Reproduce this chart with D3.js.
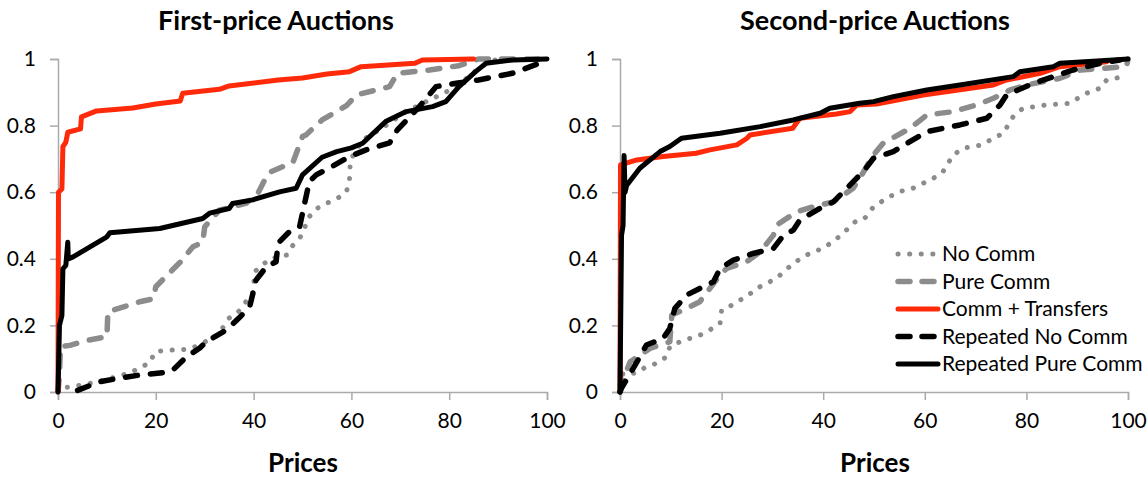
<!DOCTYPE html>
<html><head><meta charset="utf-8">
<script src="https://cdn.jsdelivr.net/npm/d3@7"></script>
<style>body{margin:0;background:#fff}svg{display:block}text{font-family:Lato,"Open Sans",sans-serif}</style>
</head><body>
<svg id="c" width="1148" height="478"></svg>
<script>
const seriesNames = ["No Comm","Pure Comm","Comm + Transfers","Repeated No Comm","Repeated Pure Comm"];
const panelTitles = ["First-price Auctions","Second-price Auctions"];
const xTicks = [0,20,40,60,80,100];
const yTicks = [0,0.2,0.4,0.6,0.8,1];
const yTickLabels = ["0","0.2","0.4","0.6","0.8","1"];
const xLabel = "Prices";

// First-price auctions: [price, cumulative share]
const fpNoComm = [[0,0],[0.5,0.012],[3,0.016],[8,0.03],[14.7,0.057],[18.8,0.088],[19.8,0.12],[22.2,0.126],[25,0.126],[27.3,0.131],[30,0.15],[32.7,0.171],[35,0.222],[37,0.243],[39.9,0.3],[40.2,0.361],[43.3,0.4],[46.7,0.411],[48,0.44],[49.4,0.461],[50.4,0.49],[51,0.52],[52.8,0.55],[55,0.567],[57.2,0.582],[59,0.602],[59.6,0.636],[59.8,0.697],[62.3,0.757],[64.4,0.775],[67.8,0.808],[71,0.84],[75,0.87],[79.3,0.9],[82.4,0.928],[85,0.96],[88,0.99],[90,1]];
const fpPureComm = [[0,0],[0.3,0.05],[0.5,0.136],[2.4,0.14],[6,0.155],[10,0.166],[10.2,0.241],[16.7,0.271],[19.5,0.28],[20,0.316],[22,0.346],[25,0.39],[27.6,0.436],[29.6,0.45],[30,0.496],[33,0.546],[38.5,0.567],[41,0.6],[43,0.658],[46,0.677],[48,0.688],[50,0.767],[50.7,0.772],[54,0.817],[59,0.86],[61,0.892],[67.8,0.917],[69.4,0.957],[76,0.967],[82,0.98],[86,1],[100,1]];
const fpCommTrans = [[0,0],[0.1,0.6],[0.8,0.61],[1,0.737],[1.6,0.75],[2,0.78],[4.6,0.79],[4.8,0.826],[7.9,0.844],[15.3,0.853],[20,0.865],[25,0.874],[25.5,0.897],[33,0.909],[35,0.919],[45,0.937],[50,0.943],[55,0.955],[59.6,0.962],[62,0.977],[73,0.987],[74.5,0.997],[85,1]];
const fpRepNoComm = [[4,0.005],[8.6,0.031],[12.7,0.042],[16.7,0.051],[21.5,0.058],[23.5,0.066],[26.3,0.106],[29,0.132],[30.3,0.151],[34.4,0.186],[37,0.222],[39.2,0.256],[40.5,0.336],[42.6,0.376],[44.6,0.391],[45,0.447],[47.3,0.481],[49.4,0.496],[50,0.537],[51.4,0.632],[52.8,0.652],[56,0.677],[59.6,0.707],[63,0.727],[67.8,0.748],[69.4,0.787],[73.9,0.857],[77.3,0.917],[81.4,0.927],[86,0.937],[92.9,0.957],[98.4,0.987],[100,0.99]];
const fpRepPureComm = [[0,0],[0.3,0.2],[0.8,0.23],[1,0.37],[1.6,0.38],[2,0.45],[2.1,0.4],[3,0.405],[10,0.466],[10.6,0.478],[20.8,0.491],[29.6,0.521],[31,0.537],[35,0.551],[35.7,0.566],[39.8,0.577],[45.3,0.601],[48.7,0.612],[50,0.652],[54,0.705],[57,0.722],[60,0.733],[62.3,0.747],[67,0.812],[71.2,0.842],[76.6,0.857],[79.3,0.872],[82,0.917],[85.4,0.962],[87.5,0.987],[93,0.997],[100,1]];

// Second-price auctions
const spNoComm = [[0,0.02],[0.6,0.057],[3,0.056],[5.2,0.076],[7.2,0.086],[9.2,0.106],[9.8,0.136],[12.5,0.156],[15.1,0.166],[17.1,0.181],[19.7,0.206],[20,0.246],[21,0.251],[23,0.271],[24.9,0.286],[26.9,0.311],[29.5,0.331],[31.5,0.351],[34.1,0.386],[36.1,0.406],[38,0.421],[40,0.431],[42.7,0.461],[45.3,0.496],[46.6,0.516],[48.2,0.522],[49.9,0.556],[52.5,0.582],[55.1,0.602],[57.7,0.612],[61.7,0.642],[63.6,0.662],[65.6,0.712],[67.6,0.732],[71.2,0.742],[73.5,0.762],[75.5,0.777],[76.4,0.802],[77.4,0.827],[79.3,0.852],[83.9,0.862],[88.6,0.867],[90.6,0.887],[92.5,0.902],[94.5,0.912],[95.8,0.937],[99.1,0.947],[100,0.952]];
const spPureComm = [[0,0],[0.7,0.042],[2,0.091],[5.9,0.131],[9.8,0.151],[10.2,0.231],[13.1,0.251],[15.7,0.271],[19.7,0.351],[21,0.371],[24.9,0.391],[27.6,0.421],[30.2,0.471],[30.8,0.501],[34.8,0.541],[38,0.556],[42,0.571],[45.9,0.612],[47.2,0.642],[49.9,0.712],[51.8,0.747],[57.1,0.792],[60.4,0.832],[65.6,0.842],[70.2,0.862],[73.5,0.882],[76.8,0.907],[80,0.922],[86.6,0.942],[90.6,0.967],[99.7,0.977],[100,1]];
const spCommTrans = [[0,0],[0.1,0.682],[3.3,0.697],[8.5,0.707],[15,0.717],[17.7,0.727],[23,0.742],[25,0.762],[25.6,0.772],[34,0.792],[35.4,0.822],[42.6,0.835],[45.3,0.842],[46.6,0.862],[50.5,0.865],[59.7,0.892],[73.5,0.922],[76.1,0.937],[82.7,0.957],[86.6,0.977],[93.2,0.987],[95.8,0.992]];
const spRepNoComm = [[0,0],[0.3,0.012],[2.6,0.071],[5.2,0.141],[8.5,0.161],[9.8,0.191],[10.8,0.251],[13.1,0.291],[15.7,0.311],[18.4,0.331],[19.7,0.371],[22.3,0.396],[26.2,0.416],[30.2,0.431],[32.2,0.471],[34.1,0.486],[35.4,0.516],[39.4,0.552],[42,0.571],[45.3,0.622],[47.9,0.662],[49.9,0.702],[53.8,0.722],[60.4,0.782],[66.9,0.802],[72.2,0.822],[74.8,0.862],[76.1,0.892],[81.4,0.927],[85.3,0.947],[89.2,0.967],[94.5,0.987],[98.4,0.997]];
const spRepPureComm = [[0,0],[0.3,0.47],[0.6,0.5],[0.8,0.71],[1,0.6],[1.3,0.62],[3.9,0.672],[7.9,0.722],[9.8,0.737],[12.1,0.762],[19.7,0.777],[27.6,0.797],[34.1,0.817],[39.4,0.837],[41.3,0.852],[47.2,0.867],[49.9,0.872],[53.8,0.887],[60.4,0.907],[66.9,0.922],[77.4,0.947],[78.7,0.962],[85.3,0.977],[86.6,0.987],[97.1,0.997],[100,1]];

const styles = [
  {color:"#8c8c8c", width:5, dash:"0.1 11.5", cap:"round"},
  {color:"#8c8c8c", width:5.5, dash:"12 13", cap:"round"},
  {color:"#ff2a0a", width:5, dash:null, cap:"round"},
  {color:"#000000", width:5.5, dash:"12 13", cap:"round"},
  {color:"#000000", width:5, dash:null, cap:"round"}
];

const panels = [
  {title:panelTitles[0], series:[fpNoComm,fpPureComm,fpCommTrans,fpRepNoComm,fpRepPureComm], x0:58, x1:547, titleX:276, labelX:303, labelY:472, legend:false},
  {title:panelTitles[1], series:[spNoComm,spPureComm,spCommTrans,spRepNoComm,spRepPureComm], x0:620, x1:1128, titleX:875, labelX:875, labelY:472, legend:true}
];
const yTop = 59, yBot = 392;
const svg = d3.select("#c");
const axisColor = "#aaaaaa";

panels.forEach(p => {
  const x = d3.scaleLinear().domain([0,100]).range([p.x0,p.x1]);
  const y = d3.scaleLinear().domain([0,1]).range([yBot,yTop]);
  const g = svg.append("g");

  const xa = g.append("g").attr("transform",`translate(0,${yBot})`)
    .call(d3.axisBottom(x).tickValues(xTicks).tickSize(8).tickPadding(13).tickFormat(d3.format("d")));
  const ya = g.append("g").attr("transform",`translate(${p.x0},0)`)
    .call(d3.axisLeft(y).tickValues(yTicks).tickSize(8).tickPadding(14).tickFormat((d,i)=>yTickLabels[i]));
  [xa,ya].forEach(a=>{
    a.selectAll("path,line").attr("stroke",axisColor).attr("stroke-width",1.5);
    a.selectAll("text").attr("fill","#000").style("font-size","21px").style("font-family","Lato");
  });

  const line = d3.line().x(d=>x(d[0])).y(d=>y(d[1]));
  p.series.forEach((s,i)=>{
    const st = styles[i];
    g.append("path").datum(s).attr("d",line)
      .attr("fill","none").attr("stroke",st.color).attr("stroke-width",st.width)
      .attr("stroke-linecap",st.cap).attr("stroke-linejoin","round")
      .attr("stroke-dasharray",st.dash);
  });

  g.append("text").attr("x",p.titleX).attr("y",30).attr("text-anchor","middle")
    .style("font-size","27px").style("font-weight","bold").text(p.title);
  g.append("text").attr("x",p.labelX).attr("y",p.labelY).attr("text-anchor","middle")
    .style("font-size","26px").style("font-weight","bold").text(xLabel);

  if (p.legend) {
    const lg = g.append("g");
    seriesNames.forEach((n,i)=>{
      const yy = 254 + i*27.5;
      const st = styles[i];
      lg.append("line").attr("x1",898).attr("x2",938).attr("y1",yy).attr("y2",yy)
        .attr("stroke",st.color).attr("stroke-width",st.width).attr("stroke-linecap",st.cap)
        .attr("stroke-dasharray", st.dash ? (i===0?"0.1 11.5":"12 12") : null);
      lg.append("text").attr("x",942).attr("y",yy).attr("dy","0.35em")
        .style("font-size","21px").text(n);
    });
  }
});
</script>
</body></html>
